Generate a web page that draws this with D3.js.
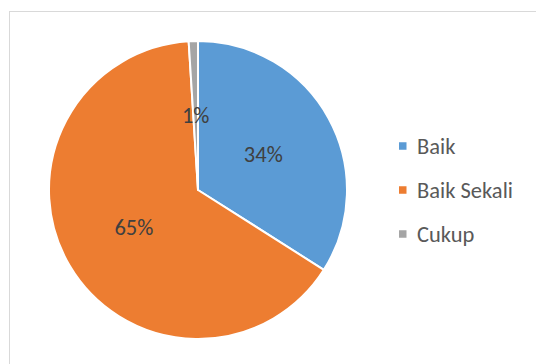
<!DOCTYPE html>
<html><head><meta charset="utf-8">
<script src="https://cdn.jsdelivr.net/npm/d3@7"></script>
<style>body{margin:0;background:#fff}svg{display:block}</style>
</head><body>
<script>
const categories = ["Baik", "Baik Sekali", "Cukup"];
const values = [34, 65, 1];
const labels = ["34%", "65%", "1%"];
const colors = ["#5B9BD5", "#ED7D31", "#A5A5A5"];

const W = 536, H = 364;
const FONT = "Carlito, Calibri, Lato, sans-serif";
const svg = d3.select("body").append("svg").attr("width", W).attr("height", H);
svg.append("rect").attr("x", 9.5).attr("y", 11.5).attr("width", W).attr("height", H)
  .attr("fill", "#fff").attr("stroke", "#D9D9D9").attr("stroke-width", 1);

const cx = 198, cy = 190, r = 149;
const data = categories.map((c, i) => ({c, v: values[i], l: labels[i], col: colors[i]}));
const pie = d3.pie().value(d => d.v).sort(null);
const arc = d3.arc().innerRadius(0).outerRadius(r);
const g = svg.append("g").attr("transform", `translate(${cx},${cy})`);
const arcs = pie(data);
g.selectAll("path").data(arcs).join("path")
  .attr("d", arc).attr("fill", d => d.data.col)
  .attr("stroke", "#fff").attr("stroke-width", 2).attr("stroke-linejoin", "round");

g.selectAll("text").data(arcs).join("text")
  .attr("transform", d => { const c = arc.centroid(d); return `translate(${c[0]},${c[1] + 7.5})`; })
  .attr("text-anchor", "middle")
  .attr("font-family", FONT).attr("font-size", 22.5)
  .attr("fill", "#404040").text(d => d.data.l);

const leg = svg.append("g");
const ly = d3.scalePoint().domain(categories).range([146, 234]);
categories.forEach((c, i) => {
  leg.append("rect").attr("x", 399).attr("y", ly(c) - 3.75).attr("width", 7.5).attr("height", 7.5).attr("fill", colors[i]);
  leg.append("text").attr("x", 417).attr("y", ly(c) + 8)
    .attr("font-family", FONT).attr("font-size", 22.5)
    .attr("fill", "#595959").text(c);
});
</script>
</body></html>
